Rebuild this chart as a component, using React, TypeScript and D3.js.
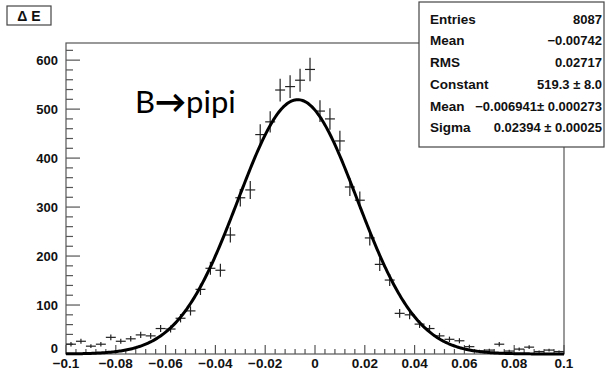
import { useRef, useEffect } from 'react';
import * as d3 from 'd3';

const W = 605;
const H = 371;
const M = { top: 43, right: 41, bottom: 17, left: 66 };

// histogram: 50 bins of width 0.004 from -0.1 to 0.1
const binLow = -0.1;
const binWidth = 0.004;
const counts = [
  20, 26, 16, 20, 34, 26, 31, 39, 37, 52,
  51, 73, 88, 132, 175, 171, 243, 319, 335, 448,
  474, 539, 546, 559, 581, 496, 480, 435, 341, 314,
  237, 183, 151, 83, 80, 61, 52, 37, 30, 27,
  15, 6, 8, 20, 6, 10, 14, 5, 8, 5,
];

const yMax = 635;
const xTicks = [-0.1, -0.08, -0.06, -0.04, -0.02, 0, 0.02, 0.04, 0.06, 0.08, 0.1];
const xTickLabels = ['\u22120.1', '\u22120.08', '\u22120.06', '\u22120.04', '\u22120.02', '0', '0.02', '0.04', '0.06', '0.08', '0.1'];
const yTicks = [0, 100, 200, 300, 400, 500, 600];

// gaussian fit result
const fitConstant = 519.3;
const fitMean = -0.006941;
const fitSigma = 0.02394;

const statLabels = ['Entries', 'Mean', 'RMS', 'Constant', 'Mean', 'Sigma'];
const statValues = ['8087', '\u22120.00742', '0.02717', '519.3 \u00b1 8.0', '\u22120.006941\u00b1 0.000273', '0.02394 \u00b1 0.00025'];

const FONT = '"Liberation Sans", Arial, Helvetica, sans-serif';

export default function App() {
  const svgRef = useRef<SVGSVGElement>(null);

  useEffect(() => {
    const svg = d3.select(svgRef.current);
    svg.selectAll('*').remove();

    const x0 = M.left;
    const x1 = W - M.right;
    const y0 = H - M.bottom;
    const y1 = M.top;

    svg.append('rect').attr('width', W).attr('height', H).attr('fill', '#fff');

    const x = d3.scaleLinear().domain([-0.1, 0.1]).range([x0, x1]);
    const y = d3.scaleLinear().domain([0, yMax]).range([y0, y1]);

    // frame
    svg
      .append('rect')
      .attr('x', x0)
      .attr('y', y1)
      .attr('width', x1 - x0)
      .attr('height', y0 - y1)
      .attr('fill', 'none')
      .attr('stroke', '#555')
      .attr('stroke-width', 1.2);

    // y axis ticks
    d3.range(0, yMax, 20).forEach((t) => {
      const major = t % 100 === 0;
      svg
        .append('line')
        .attr('x1', x0)
        .attr('x2', x0 + (major ? 14 : 7))
        .attr('y1', y(t))
        .attr('y2', y(t))
        .attr('stroke', '#555')
        .attr('stroke-width', 1.2);
    });
    yTicks.forEach((t) => {
      svg
        .append('text')
        .attr('x', x0 - 8)
        .attr('y', y(t) + (t === 0 ? -1 : 5))
        .attr('text-anchor', 'end')
        .attr('font-family', FONT)
        .attr('font-weight', 700)
        .attr('font-size', 13)
        .attr('fill', '#111')
        .text(String(t));
    });

    // x axis ticks
    d3.range(0, 51).forEach((i) => {
      const t = -0.1 + i * 0.004;
      const major = i % 5 === 0;
      svg
        .append('line')
        .attr('x1', x(t))
        .attr('x2', x(t))
        .attr('y1', y0)
        .attr('y2', y0 - (major ? 9 : 5))
        .attr('stroke', '#555')
        .attr('stroke-width', 1.2);
    });
    xTicks.forEach((t, i) => {
      svg
        .append('text')
        .attr('x', x(t))
        .attr('y', y0 + 14)
        .attr('text-anchor', 'middle')
        .attr('font-family', FONT)
        .attr('font-weight', 700)
        .attr('font-size', 13.5)
        .attr('fill', '#111')
        .text(xTickLabels[i]);
    });

    // data points with error bars
    const g = svg.append('g').attr('stroke', '#222').attr('stroke-width', 1.2);
    counts.forEach((n, i) => {
      const lo = binLow + i * binWidth;
      const c = lo + binWidth / 2;
      const err = Math.sqrt(n);
      g.append('line')
        .attr('x1', x(lo))
        .attr('x2', x(lo + binWidth))
        .attr('y1', y(n))
        .attr('y2', y(n));
      g.append('line')
        .attr('x1', x(c))
        .attr('x2', x(c))
        .attr('y1', y(n - err))
        .attr('y2', y(n + err));
    });

    // fit curve
    const gauss = (v: number) => fitConstant * Math.exp(-0.5 * ((v - fitMean) / fitSigma) ** 2);
    const pts = d3.range(0, 401).map((i) => -0.1 + i * 0.0005);
    const line = d3
      .line<number>()
      .x((v) => x(v))
      .y((v) => y(gauss(v)));
    svg
      .append('path')
      .attr('d', line(pts))
      .attr('fill', 'none')
      .attr('stroke', '#000')
      .attr('stroke-width', 3);

    // title box
    svg
      .append('rect')
      .attr('x', 7)
      .attr('y', 6)
      .attr('width', 44)
      .attr('height', 19)
      .attr('fill', '#fff')
      .attr('stroke', '#444')
      .attr('stroke-width', 1.2);
    svg
      .append('text')
      .attr('x', 29)
      .attr('y', 20.5)
      .attr('text-anchor', 'middle')
      .attr('font-family', FONT)
      .attr('font-weight', 700)
      .attr('font-size', 14)
      .attr('fill', '#111')
      .text('\u0394 E');

    // annotation
    const ann = svg
      .append('text')
      .attr('x', 135)
      .attr('y', 113)
      .attr('font-family', 'Lato, "Open Sans", sans-serif')
      .attr('font-size', 31)
      .attr('fill', '#000');
    ann.append('tspan').text('B');
    ann.append('tspan').attr('font-weight', 900).text('\u2192');
    ann.append('tspan').text('pipi');

    // stats box
    svg
      .append('rect')
      .attr('x', 419)
      .attr('y', 2)
      .attr('width', 185)
      .attr('height', 145)
      .attr('fill', '#fff')
      .attr('stroke', '#444')
      .attr('stroke-width', 1.2);
    const rowY = [19, 40, 62, 84, 106, 127];
    statLabels.forEach((s, i) => {
      svg
        .append('text')
        .attr('x', 430)
        .attr('y', rowY[i] + 5)
        .attr('font-family', FONT)
        .attr('font-weight', 700)
        .attr('font-size', 13.5)
        .attr('fill', '#111')
        .text(s);
      svg
        .append('text')
        .attr('x', 602)
        .attr('y', rowY[i] + 5)
        .attr('text-anchor', 'end')
        .attr('font-family', FONT)
        .attr('font-weight', 700)
        .attr('font-size', 13)
        .attr('fill', '#111')
        .text(statValues[i]);
    });
  }, []);

  return (
    <svg
      ref={svgRef}
      width={W}
      height={H}
      style={{ position: 'absolute', left: 0, top: 0 }}
    />
  );
}
